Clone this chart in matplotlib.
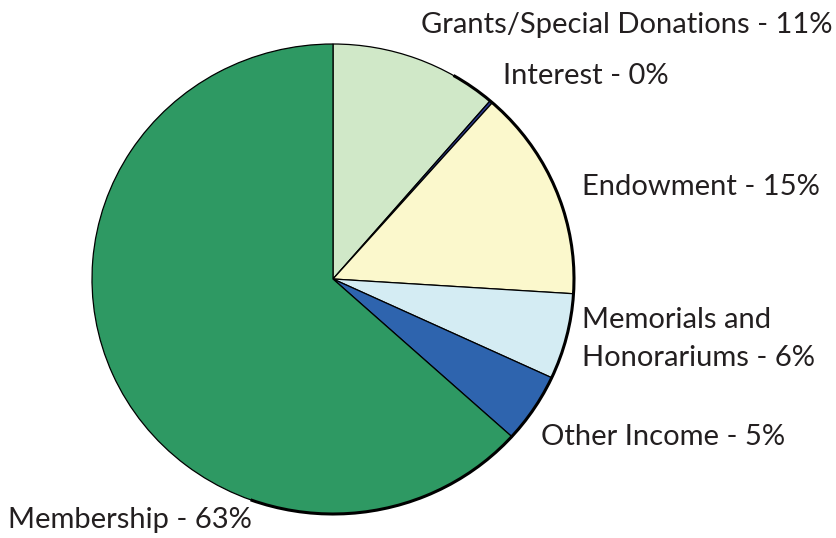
import numpy as np
import matplotlib
matplotlib.use("Agg")
import matplotlib.pyplot as plt
from matplotlib.patches import Arc

labels = ["Grants/Special Donations - 11%", "Interest - 0%", "Endowment - 15%",
          "Memorials and\nHonorariums - 6%", "Other Income - 5%", "Membership - 63%"]
shares = [11.3, 0.2, 14.5, 5.9, 4.8, 63.3]
colors = ["#d0e8c8", "#2b3990", "#fbf8cc", "#d4ecf3", "#2e64ae", "#2e9963"]

W, H = 837, 538
fig = plt.figure(figsize=(8.37, 5.38), dpi=100)
ax = fig.add_axes([0, 0, 1, 1])

# pie centre / radii in pixels (slightly elliptic in the original)
cx, cy, rx, ry = 333, 279, 241, 235
ax.pie(shares, colors=colors, startangle=90, counterclock=False,
       wedgeprops=dict(edgecolor="black", linewidth=0.9))
ax.set_aspect("auto")
ax.set_xlim(-cx / rx, (W - cx) / rx)
ax.set_ylim((cy - H) / ry, cy / ry)
ax.axis("off")
# heavier rim on the lower right side
ax.add_patch(Arc((0, 0), 2, 2, theta1=-110, theta2=60, color="black", lw=2.2))

txt = dict(fontsize=21, color="#231f20", family="Lato", va="center")
def label(x, y, s, ha="left", **kw):
    fig.text(x / W, 1 - y / H, s, ha=ha, **txt, **kw)

label(833, 25, labels[0], ha="right")
label(503, 76, labels[1])
label(582, 187, labels[2])
label(582, 339, labels[3], linespacing=1.55)
label(541, 437, labels[4])
label(8, 520, labels[5])

fig.savefig("out.png", dpi=100)
